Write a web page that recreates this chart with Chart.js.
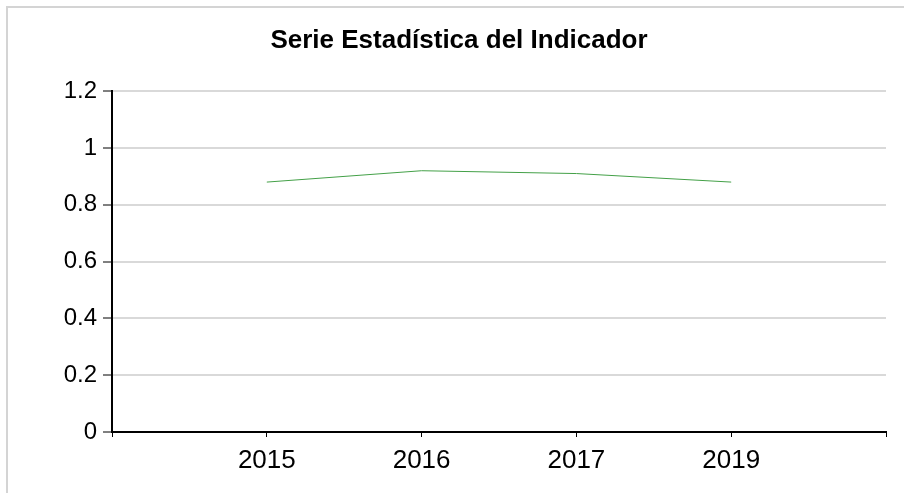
<!DOCTYPE html>
<html>
<head>
<meta charset="utf-8">
<script src="https://cdn.jsdelivr.net/npm/chart.js@4.4.1/dist/chart.umd.min.js"></script>
<style>
  html, body { margin: 0; padding: 0; background: #fff; }
  #frame { position: absolute; left: 6px; top: 6px; width: 1000px; height: 600px;
           border-left: 2px solid #d4d4d4; border-top: 2px solid #d4d4d4; }
  #wrap { position: absolute; left: 0; top: 0; width: 904px; height: 493px; }
</style>
</head>
<body>
<div id="frame"></div>
<div id="wrap"><canvas id="c" width="904" height="493"></canvas></div>
<script>
const titleText = 'Serie Estadística del Indicador';
const categories = ['2015', '2016', '2017', '2019'];
const values = [0.88, 0.92, 0.91, 0.88];
const yTicks = [0, 0.2, 0.4, 0.6, 0.8, 1, 1.2];

const labels = [''].concat(categories, ['']);
const data = [null].concat(values, [null]);

new Chart(document.getElementById('c'), {
  type: 'line',
  data: {
    labels: labels,
    datasets: [{
      data: data,
      borderColor: '#43a047',
      borderWidth: 1,
      pointRadius: 0,
      tension: 0,
      fill: false
    }]
  },
  options: {
    responsive: false,
    animation: false,
    layout: { padding: { left: 32, right: 18, top: 0, bottom: 0 } },
    plugins: {
      legend: { display: false },
      tooltip: { enabled: false },
      title: {
        display: true,
        text: titleText,
        color: '#000',
        font: { family: 'Liberation Sans, Arial, sans-serif', size: 26, weight: 'bold' },
        padding: { top: 25, bottom: 35 }
      }
    },
    scales: {
      x: {
        type: 'category',
        offset: false,
        grid: { drawOnChartArea: false, tickColor: '#000', tickLength: 5, tickWidth: 1 },
        border: { color: '#000', width: 2 },
        ticks: {
          color: '#000', padding: 8, maxRotation: 0, autoSkip: false,
          font: { family: 'Liberation Sans, Arial, sans-serif', size: 26 }
        },
        afterFit: s => { s.height = 493 - 432; }
      },
      y: {
        min: 0, max: 1.2,
        afterBuildTicks: s => { s.ticks = yTicks.map(v => ({ value: v })); },
        grid: { color: '#d9d9d9', lineWidth: 2, tickColor: '#000', tickLength: 9, tickWidth: 1 },
        border: { color: '#000', width: 2 },
        ticks: {
          color: '#000', padding: 6,
          font: { family: 'Liberation Sans, Arial, sans-serif', size: 24 },
          callback: v => String(Math.round(v * 10) / 10)
        },
        afterFit: s => { s.width = 80; }
      }
    }
  }
});
</script>
</body>
</html>
